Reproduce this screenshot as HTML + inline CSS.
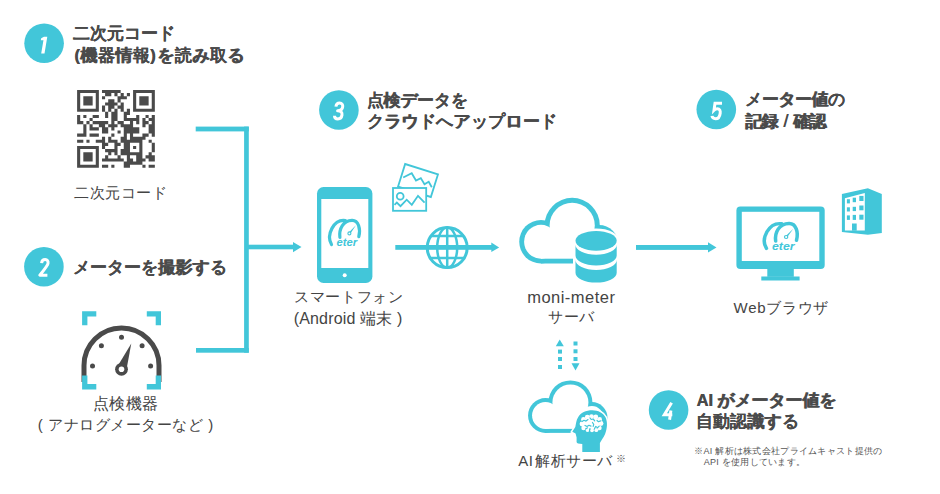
<!DOCTYPE html>
<html lang="ja"><head><meta charset="utf-8">
<style>
html,body{margin:0;padding:0;background:#fff;}
body{width:940px;height:494px;position:relative;overflow:hidden;font-family:"Liberation Sans",sans-serif;color:#444;}
.t{position:absolute;white-space:nowrap;line-height:1;}
.h{font-weight:bold;color:#4a4a4a;text-shadow:0.4px 0 0 #4a4a4a;}
.c{color:#444;}
.n{color:#555;}
svg{position:absolute;left:0;top:0;}
</style></head><body>
<svg width="940" height="494" viewBox="0 0 940 494">
<g fill="#42c6d9">
<circle cx="44.1" cy="43.3" r="19.8"/>
<circle cx="43.9" cy="266.7" r="19.8"/>
<circle cx="338.9" cy="110" r="19.8"/>
<circle cx="668.6" cy="410" r="19.8"/>
<circle cx="716.3" cy="109.5" r="19.8"/>
</g>
<g fill="none" stroke="#fff" stroke-width="3" stroke-linejoin="round">
<polygon fill="#fff" stroke="none" points="44,36.7 47.3,36.7 44.5,53.4 41.2,53.4 43.45,40.2 40.8,40.2 41.2,38.2"/>
<path d="M41.6,263.2 C41.8,260.5 43.5,259.6 45.2,259.6 C47.3,259.6 48.4,261 48,263.5 C47.7,265.5 46.5,267 39.8,275.2 L47.4,275.2"/>
<path d="M335.9,106.6 C336.2,104.2 337.7,103.1 339.6,103.1 C341.9,103.1 343,104.6 342.7,106.8 C342.4,109.3 340.8,110.8 337.6,110.8 C340.8,110.8 342.4,112.3 342,115 C341.6,117.6 340,118.9 337.9,118.9 C335.7,118.9 334.5,117.7 334.5,115.7"/>
<path d="M671.6,402.8 L664.3,414.8 L672.3,414.8 M670.9,410.5 L669.6,419.8" stroke-linejoin="miter"/>
<path d="M722,103.3 L715,103.3 L714,110.3 C715,109.3 716.2,108.8 717.4,108.8 C719.6,108.8 720.6,110.5 720.2,113.2 C719.8,116.5 718.2,118.7 715.6,118.7 C713.5,118.7 712.2,117.5 712,115.9" stroke-linejoin="miter"/>
</g>
<!-- QR -->
<path fill="#4a4a4a" d="M77.10,90.00h21.77v3.11h-21.77zM101.98,90.00h18.66v3.11h-18.66zM133.08,90.00h21.77v3.11h-21.77zM77.10,93.11h3.11v3.11h-3.11zM95.76,93.11h3.11v3.11h-3.11zM105.09,93.11h6.22v3.11h-6.22zM114.42,93.11h3.11v3.11h-3.11zM120.64,93.11h3.11v3.11h-3.11zM126.86,93.11h3.11v3.11h-3.11zM133.08,93.11h3.11v3.11h-3.11zM151.74,93.11h3.11v3.11h-3.11zM77.10,96.22h3.11v3.11h-3.11zM83.32,96.22h9.33v3.11h-9.33zM95.76,96.22h3.11v3.11h-3.11zM101.98,96.22h3.11v3.11h-3.11zM117.53,96.22h9.33v3.11h-9.33zM133.08,96.22h3.11v3.11h-3.11zM139.30,96.22h9.33v3.11h-9.33zM151.74,96.22h3.11v3.11h-3.11zM77.10,99.33h3.11v3.11h-3.11zM83.32,99.33h9.33v3.11h-9.33zM95.76,99.33h3.11v3.11h-3.11zM108.20,99.33h6.22v3.11h-6.22zM117.53,99.33h3.11v3.11h-3.11zM133.08,99.33h3.11v3.11h-3.11zM139.30,99.33h9.33v3.11h-9.33zM151.74,99.33h3.11v3.11h-3.11zM77.10,102.44h3.11v3.11h-3.11zM83.32,102.44h9.33v3.11h-9.33zM95.76,102.44h3.11v3.11h-3.11zM105.09,102.44h12.44v3.11h-12.44zM120.64,102.44h3.11v3.11h-3.11zM133.08,102.44h3.11v3.11h-3.11zM139.30,102.44h9.33v3.11h-9.33zM151.74,102.44h3.11v3.11h-3.11zM77.10,105.55h3.11v3.11h-3.11zM95.76,105.55h3.11v3.11h-3.11zM101.98,105.55h3.11v3.11h-3.11zM108.20,105.55h6.22v3.11h-6.22zM117.53,105.55h6.22v3.11h-6.22zM133.08,105.55h3.11v3.11h-3.11zM151.74,105.55h3.11v3.11h-3.11zM77.10,108.66h21.77v3.11h-21.77zM101.98,108.66h3.11v3.11h-3.11zM108.20,108.66h3.11v3.11h-3.11zM114.42,108.66h3.11v3.11h-3.11zM120.64,108.66h3.11v3.11h-3.11zM126.86,108.66h3.11v3.11h-3.11zM133.08,108.66h21.77v3.11h-21.77zM105.09,111.77h3.11v3.11h-3.11zM111.31,111.77h6.22v3.11h-6.22zM123.75,111.77h6.22v3.11h-6.22zM77.10,114.88h3.11v3.11h-3.11zM83.32,114.88h3.11v3.11h-3.11zM92.65,114.88h6.22v3.11h-6.22zM105.09,114.88h3.11v3.11h-3.11zM111.31,114.88h6.22v3.11h-6.22zM123.75,114.88h3.11v3.11h-3.11zM136.19,114.88h3.11v3.11h-3.11zM145.52,114.88h3.11v3.11h-3.11zM151.74,114.88h3.11v3.11h-3.11zM77.10,117.99h3.11v3.11h-3.11zM89.54,117.99h3.11v3.11h-3.11zM111.31,117.99h6.22v3.11h-6.22zM123.75,117.99h15.55v3.11h-15.55zM142.41,117.99h3.11v3.11h-3.11zM148.63,117.99h6.22v3.11h-6.22zM77.10,121.10h6.22v3.11h-6.22zM86.43,121.10h3.11v3.11h-3.11zM92.65,121.10h15.55v3.11h-15.55zM111.31,121.10h3.11v3.11h-3.11zM117.53,121.10h6.22v3.11h-6.22zM129.97,121.10h3.11v3.11h-3.11zM136.19,121.10h3.11v3.11h-3.11zM142.41,121.10h6.22v3.11h-6.22zM151.74,121.10h3.11v3.11h-3.11zM83.32,124.21h3.11v3.11h-3.11zM89.54,124.21h3.11v3.11h-3.11zM98.87,124.21h6.22v3.11h-6.22zM108.20,124.21h9.33v3.11h-9.33zM120.64,124.21h12.44v3.11h-12.44zM142.41,124.21h3.11v3.11h-3.11zM148.63,124.21h6.22v3.11h-6.22zM83.32,127.32h3.11v3.11h-3.11zM89.54,127.32h9.33v3.11h-9.33zM101.98,127.32h6.22v3.11h-6.22zM111.31,127.32h3.11v3.11h-3.11zM123.75,127.32h15.55v3.11h-15.55zM148.63,127.32h6.22v3.11h-6.22zM83.32,130.43h3.11v3.11h-3.11zM101.98,130.43h6.22v3.11h-6.22zM117.53,130.43h3.11v3.11h-3.11zM123.75,130.43h15.55v3.11h-15.55zM148.63,130.43h6.22v3.11h-6.22zM77.10,133.54h9.33v3.11h-9.33zM89.54,133.54h9.33v3.11h-9.33zM111.31,133.54h3.11v3.11h-3.11zM123.75,133.54h3.11v3.11h-3.11zM129.97,133.54h3.11v3.11h-3.11zM142.41,133.54h6.22v3.11h-6.22zM151.74,133.54h3.11v3.11h-3.11zM101.98,136.65h3.11v3.11h-3.11zM108.20,136.65h3.11v3.11h-3.11zM120.64,136.65h6.22v3.11h-6.22zM129.97,136.65h15.55v3.11h-15.55zM77.10,139.76h6.22v3.11h-6.22zM86.43,139.76h3.11v3.11h-3.11zM95.76,139.76h9.33v3.11h-9.33zM108.20,139.76h9.33v3.11h-9.33zM120.64,139.76h21.77v3.11h-21.77zM148.63,139.76h3.11v3.11h-3.11zM101.98,142.87h6.22v3.11h-6.22zM114.42,142.87h6.22v3.11h-6.22zM123.75,142.87h6.22v3.11h-6.22zM139.30,142.87h3.11v3.11h-3.11zM151.74,142.87h3.11v3.11h-3.11zM77.10,145.98h21.77v3.11h-21.77zM101.98,145.98h3.11v3.11h-3.11zM114.42,145.98h3.11v3.11h-3.11zM123.75,145.98h6.22v3.11h-6.22zM133.08,145.98h3.11v3.11h-3.11zM139.30,145.98h3.11v3.11h-3.11zM151.74,145.98h3.11v3.11h-3.11zM77.10,149.09h3.11v3.11h-3.11zM95.76,149.09h3.11v3.11h-3.11zM105.09,149.09h12.44v3.11h-12.44zM120.64,149.09h9.33v3.11h-9.33zM139.30,149.09h3.11v3.11h-3.11zM151.74,149.09h3.11v3.11h-3.11zM77.10,152.20h3.11v3.11h-3.11zM83.32,152.20h9.33v3.11h-9.33zM95.76,152.20h3.11v3.11h-3.11zM108.20,152.20h3.11v3.11h-3.11zM114.42,152.20h3.11v3.11h-3.11zM120.64,152.20h21.77v3.11h-21.77zM148.63,152.20h3.11v3.11h-3.11zM77.10,155.31h3.11v3.11h-3.11zM83.32,155.31h9.33v3.11h-9.33zM95.76,155.31h3.11v3.11h-3.11zM105.09,155.31h3.11v3.11h-3.11zM117.53,155.31h3.11v3.11h-3.11zM126.86,155.31h3.11v3.11h-3.11zM136.19,155.31h6.22v3.11h-6.22zM145.52,155.31h9.33v3.11h-9.33zM77.10,158.42h3.11v3.11h-3.11zM83.32,158.42h9.33v3.11h-9.33zM95.76,158.42h3.11v3.11h-3.11zM101.98,158.42h21.77v3.11h-21.77zM126.86,158.42h6.22v3.11h-6.22zM136.19,158.42h9.33v3.11h-9.33zM148.63,158.42h6.22v3.11h-6.22zM77.10,161.53h3.11v3.11h-3.11zM95.76,161.53h3.11v3.11h-3.11zM123.75,161.53h18.66v3.11h-18.66zM77.10,164.64h21.77v3.11h-21.77zM101.98,164.64h6.22v3.11h-6.22zM111.31,164.64h3.11v3.11h-3.11zM123.75,164.64h6.22v3.11h-6.22zM142.41,164.64h3.11v3.11h-3.11zM148.63,164.64h6.22v3.11h-6.22z"/>
<!-- connectors -->
<g fill="#42c6d9">
<rect x="195.7" y="126.6" width="53.1" height="4.8"/>
<rect x="244.1" y="126.6" width="4.7" height="226.1"/>
<rect x="196" y="348" width="52.8" height="4.7"/>
<rect x="248" y="244.7" width="46" height="4.6"/>
<polygon points="293,242 301.5,247 293,252.2"/>
<rect x="395.3" y="245" width="97" height="4.8"/>
<polygon points="491.3,242.6 499.2,247.4 491.3,252.1"/>
<rect x="636" y="245" width="73" height="4.9"/>
<polygon points="708,242.3 716.5,247.4 708,252.5"/>
</g>
<!-- globe -->
<g fill="none" stroke="#42c6d9">
<circle cx="447.2" cy="247.6" r="20" stroke-width="3"/>
<ellipse cx="447.2" cy="247.6" rx="10" ry="20" stroke-width="2.5"/>
<line x1="447.2" y1="227.6" x2="447.2" y2="267.6" stroke-width="2.5"/>
<line x1="430.5" y1="236" x2="463.9" y2="236" stroke-width="2.5"/>
<line x1="430.5" y1="258" x2="463.9" y2="258" stroke-width="2.5"/>
</g>
<!-- phone -->
<rect x="317" y="187.1" width="55.4" height="95.9" rx="6.5" fill="#42c6d9"/>
<rect x="321.3" y="199" width="47" height="69" fill="#fff"/>
<circle cx="344.7" cy="275.3" r="2" fill="#fff"/>
<g id="logo" fill="none" stroke="#42c6d9" stroke-width="3.2" stroke-linecap="round">
<path d="M331.5,244.5 C326,235.2 333.6,218.8 345.4,220.5"/>
<path d="M339.9,237.4 C338.8,229 343,220.5 352,220.3 C358.5,220.1 360.8,229 358.8,236.7"/>
<polygon points="350.2,234 348.6,232.8 355.9,225.3" fill="#42c6d9" stroke="none"/>
<circle cx="349.4" cy="233.4" r="1.5" stroke-width="1.1" fill="#fff"/>
<text x="336.5" y="245.8" fill="#42c6d9" stroke="none" font-family="Liberation Sans" font-weight="bold" font-style="italic" font-size="11.2">eter</text>
</g>
<!-- photos -->
<g fill="none" stroke="#42c6d9" stroke-width="1.8" stroke-linejoin="miter">
<g transform="rotate(17.4 418 180.5)">
<rect x="400.8" y="168.6" width="34.4" height="23.8"/>
</g>
</g>
<rect x="393" y="188" width="33.2" height="22.8" fill="#fff" stroke="#42c6d9" stroke-width="1.8"/>
<g fill="none" stroke="#42c6d9" stroke-width="1.8">
<polyline points="403.2,177.5 411.7,173.2 416,180.5 420.8,178.1 424.5,184.2 428.7,181.7 431.8,187.2"/>
<circle cx="400.2" cy="196.3" r="3.4"/>
<polyline points="394.5,204.8 396.8,202.6 400.5,206.2 406.7,199.7 411.8,204.8 418,195.8 424.6,202.6"/>
</g>
<!-- server cloud -->
<g fill="#42c6d9">
<circle cx="541" cy="241.75" r="21.75"/>
<circle cx="572.2" cy="225.4" r="27.6"/>
<circle cx="599" cy="244.5" r="19.5"/>
<rect x="541" y="235" width="58" height="28.5"/>
</g>
<g fill="#fff">
<circle cx="541" cy="241.75" r="16.9"/>
<circle cx="572.2" cy="225.4" r="22.6"/>
<circle cx="599" cy="244.5" r="14.5"/>
<rect x="541" y="235" width="58" height="23.7"/>
</g>
<!-- DB -->
<path d="M573,240.8 A23.1,12.4 0 0 1 619.2,240.8 L619.2,272.7 A23.1,12.4 0 0 1 573,272.7 Z" fill="#fff"/>
<g fill="#42c6d9">
<ellipse cx="596.1" cy="240.8" rx="20.6" ry="9.9"/>
<path d="M575.5,244.8 A20.6,9.9 0 0 0 616.7,244.8 L616.7,255.5 A20.6,9.9 0 0 1 575.5,255.5 Z"/>
<path d="M575.5,260 A20.6,9.9 0 0 0 616.7,260 L616.7,272.7 A20.6,9.9 0 0 1 575.5,272.7 Z"/>
</g>
<!-- dotted arrows -->
<g fill="#42c6d9">
<polygon points="559.7,339.5 563.8,346.3 555.8,346.3"/>
<rect x="558" y="349.6" width="4" height="4"/>
<rect x="558" y="357" width="4" height="4"/>
<rect x="558" y="365" width="4" height="4"/>
<rect x="573.5" y="341.5" width="4" height="4"/>
<rect x="573.5" y="349.3" width="4" height="4"/>
<rect x="573.5" y="357" width="4" height="4"/>
<polygon points="571.5,363.3 579.5,363.3 575.5,370.6"/>
</g>
<!-- AI cloud -->
<g transform="translate(528.1 380.4) scale(0.8) translate(-519.3 -197.9)">
<g fill="#42c6d9">
<circle cx="541" cy="241.75" r="21.75"/>
<circle cx="572.2" cy="225.4" r="27.5"/>
<circle cx="599" cy="244.5" r="19.5"/>
<rect x="541" y="235" width="58" height="28.5"/>
</g>
<g fill="#fff">
<circle cx="541" cy="241.75" r="16.75"/>
<circle cx="572.2" cy="225.4" r="22.5"/>
<circle cx="599" cy="244.5" r="14.5"/>
<rect x="541" y="235" width="58" height="23.5"/>
</g>
</g>
<!-- head -->
<path d="M592.3,410.2 C598,410.2 603.5,413 605.6,417.5 C607.6,422 607.4,428 605.1,434 C603.5,438 601,440.5 599.9,443.1 L599.9,452 L582.3,452 L582.3,444 L578,443.6 C576.8,443 576.4,442 576.6,440.5 L576.6,437.5 L575.6,433.6 L572.3,431.7 L575.3,427 C576,424 576.3,420 578,417.5 C580.5,412.5 586,410.2 592.3,410.2 Z" fill="#42c6d9" stroke="#fff" stroke-width="3" paint-order="stroke"/>
<g fill="#fff">
<circle cx="583.5" cy="419.5" r="2.4"/><circle cx="587.3" cy="417.2" r="2.4"/><circle cx="591.5" cy="416.6" r="2.4"/><circle cx="595.8" cy="417" r="2.4"/><circle cx="599.6" cy="419.4" r="2.4"/>
<circle cx="582" cy="424" r="2.4"/><circle cx="601" cy="423.5" r="2.4"/><circle cx="583.5" cy="428" r="2.2"/><circle cx="599.5" cy="428" r="2.2"/>
<circle cx="587.5" cy="430" r="1.9"/><circle cx="592" cy="430.3" r="1.9"/><circle cx="596.3" cy="430.2" r="1.9"/>
<ellipse cx="591.5" cy="423.5" rx="9" ry="6"/>
</g>
<g fill="none" stroke="#42c6d9" stroke-width="1.2" stroke-linecap="round" stroke-linejoin="round">
<path d="M582,421.5 l2,-1.2 l2,0.8 l2,-1.5"/><path d="M585,425.5 l2,1 l2,-1.2 l2,0.8"/><path d="M590,418 l1.2,1.5 l2,-0.5 l1.5,1.8"/><path d="M594.5,428.5 l1.2,-2 l2,1.2 l1.5,-1.5"/><path d="M586,428.8 l1.5,-1"/><path d="M597,420.5 l1.5,1.2 l2,-0.8"/><path d="M592.5,422.5 l1.2,1.8 l-0.5,2"/><path d="M589.5,430.5 l0.5,-2"/>
</g>
<!-- monitor -->
<rect x="736.4" y="206.4" width="88.3" height="62.5" rx="4" fill="#42c6d9"/>
<rect x="741.8" y="211.8" width="77.5" height="49.2" fill="#fff"/>
<rect x="767.3" y="268" width="26.5" height="8.8" fill="#42c6d9"/>
<rect x="761.3" y="276.5" width="38.3" height="4" fill="#42c6d9"/>
<use href="#logo" transform="translate(401.8 -3.4) scale(1.1 1.03)"/>
<!-- building -->
<polygon points="841.9,194.1 867.9,188.3 881.8,193.9 881.8,233.1 867.9,234.8 841.9,232" fill="#42c6d9"/>
<polygon points="844.9,198.2 864.8,193.1 864.8,230.6 844.9,230.6" fill="#fff"/>
<g fill="#42c6d9">
<rect x="846.9" y="199.2" width="3" height="4.2"/><rect x="852.7" y="197.7" width="3.3" height="4.5"/><rect x="859.3" y="195.9" width="4.2" height="5.1"/>
<rect x="846.9" y="207.3" width="3" height="4.2"/><rect x="852.7" y="206.8" width="3.3" height="4.3"/><rect x="859.3" y="205.5" width="4.2" height="4.8"/>
<rect x="846.9" y="215.4" width="3" height="4.5"/><rect x="852.7" y="214.9" width="3.3" height="5"/><rect x="859.3" y="214.7" width="4.2" height="5"/>
<rect x="852" y="223.5" width="4.7" height="7.2"/>
</g>
<!-- gauge -->
<g fill="none" stroke="#4a4a4a" stroke-width="5">
<path d="M84,382 L84,365.5 A37.5,37.5 0 0 1 159,365.5 L159,382"/>
</g>
<g fill="#4a4a4a">
<circle cx="101.4" cy="345.8" r="2.5"/>
<circle cx="121.5" cy="337.3" r="2.5"/>
<circle cx="142.1" cy="345.8" r="2.5"/>
<circle cx="92.5" cy="366" r="2.5"/>
<circle cx="150.6" cy="366" r="2.5"/>
<polygon points="116.8,367.5 126.2,371.1 131.3,343.5"/>
<circle cx="121.5" cy="369.3" r="6.4"/>
</g>
<circle cx="121.5" cy="369.3" r="2.8" fill="#fff"/>
<g fill="#42c6d9">
<path d="M82.1,311.3 h14.2 v5.3 h-8.9 v8.7 h-5.3 z"/>
<path d="M161,311.3 h-14.2 v5.3 h8.9 v8.7 h5.3 z"/>
<path d="M82.1,389.4 h14.2 v-5.3 h-8.9 v-8.7 h-5.3 z"/>
<path d="M161,389.4 h-14.2 v-5.3 h8.9 v-8.7 h5.3 z"/>
</g>
</svg>
<div class="t h" style="left:73.10px;top:24.50px;font-size:16.50px;letter-spacing:-0.00px;">二次元コード</div>
<div class="t h" style="left:74.30px;top:46.80px;font-size:16.50px;letter-spacing:0.44px;">(機器情報)<span style="margin-left:1.5px">を読み取る</span></div>
<div class="t h" style="left:72.60px;top:258.80px;font-size:16.50px;letter-spacing:0.12px;">メーターを撮影する</div>
<div class="t h" style="left:366.60px;top:91.60px;font-size:16.50px;letter-spacing:-0.20px;">点検データを</div>
<div class="t h" style="left:366.90px;top:113.20px;font-size:16.50px;letter-spacing:0.30px;">クラウドへアップロード</div>
<div class="t h" style="left:745.10px;top:90.80px;font-size:16.50px;letter-spacing:-0.40px;">メーター値の</div>
<div class="t h" style="left:745.30px;top:111.90px;font-size:16.50px;letter-spacing:-0.83px;">記録<span style="font-weight:normal;margin:0 1.5px;font-size:18px"> / </span>確認</div>
<div class="t h" style="left:696.40px;top:392.05px;font-size:16.50px;letter-spacing:0.00px;">AI がメーター値を</div>
<div class="t h" style="left:695.70px;top:413.20px;font-size:16.50px;letter-spacing:0.20px;">自動認識する</div>
<div class="t c" style="left:74.00px;top:185.10px;font-size:15.00px;letter-spacing:0.60px;">二次元コード</div>
<div class="t c" style="left:93.10px;top:395.50px;font-size:16.00px;letter-spacing:0.33px;">点検機器</div>
<div class="t c" style="left:37.80px;top:416.80px;font-size:15.00px;letter-spacing:0.54px;">( アナログメーターなど )</div>
<div class="t c" style="left:294.10px;top:289.10px;font-size:15.00px;letter-spacing:0.67px;">スマートフォン</div>
<div class="t c" style="left:293.70px;top:311.35px;font-size:16.00px;letter-spacing:0.17px;">(Android 端末 )</div>
<div class="t c" style="left:527.20px;top:289.00px;font-size:16.50px;letter-spacing:0.48px;">moni-meter</div>
<div class="t c" style="left:548.10px;top:308.85px;font-size:15.00px;letter-spacing:0.50px;">サーバ</div>
<div class="t c" style="left:733.60px;top:299.60px;font-size:15.00px;letter-spacing:0.67px;">Webブラウザ</div>
<div class="t c" style="left:518.30px;top:453.15px;font-size:15.00px;letter-spacing:0.50px;">AI<span style="margin-left:2px"></span>解析サーバ</div>
<div class="t n" style="left:616.20px;top:454.30px;font-size:9.50px;letter-spacing:0.00px;">※</div>
<div class="t n" style="left:694.10px;top:446.65px;font-size:9.00px;letter-spacing:0.29px;">※AI 解析は株式会社プライムキャスト提供の</div>
<div class="t n" style="left:703.80px;top:457.85px;font-size:9.00px;letter-spacing:0.25px;">API を使用しています。</div>
</body></html>
